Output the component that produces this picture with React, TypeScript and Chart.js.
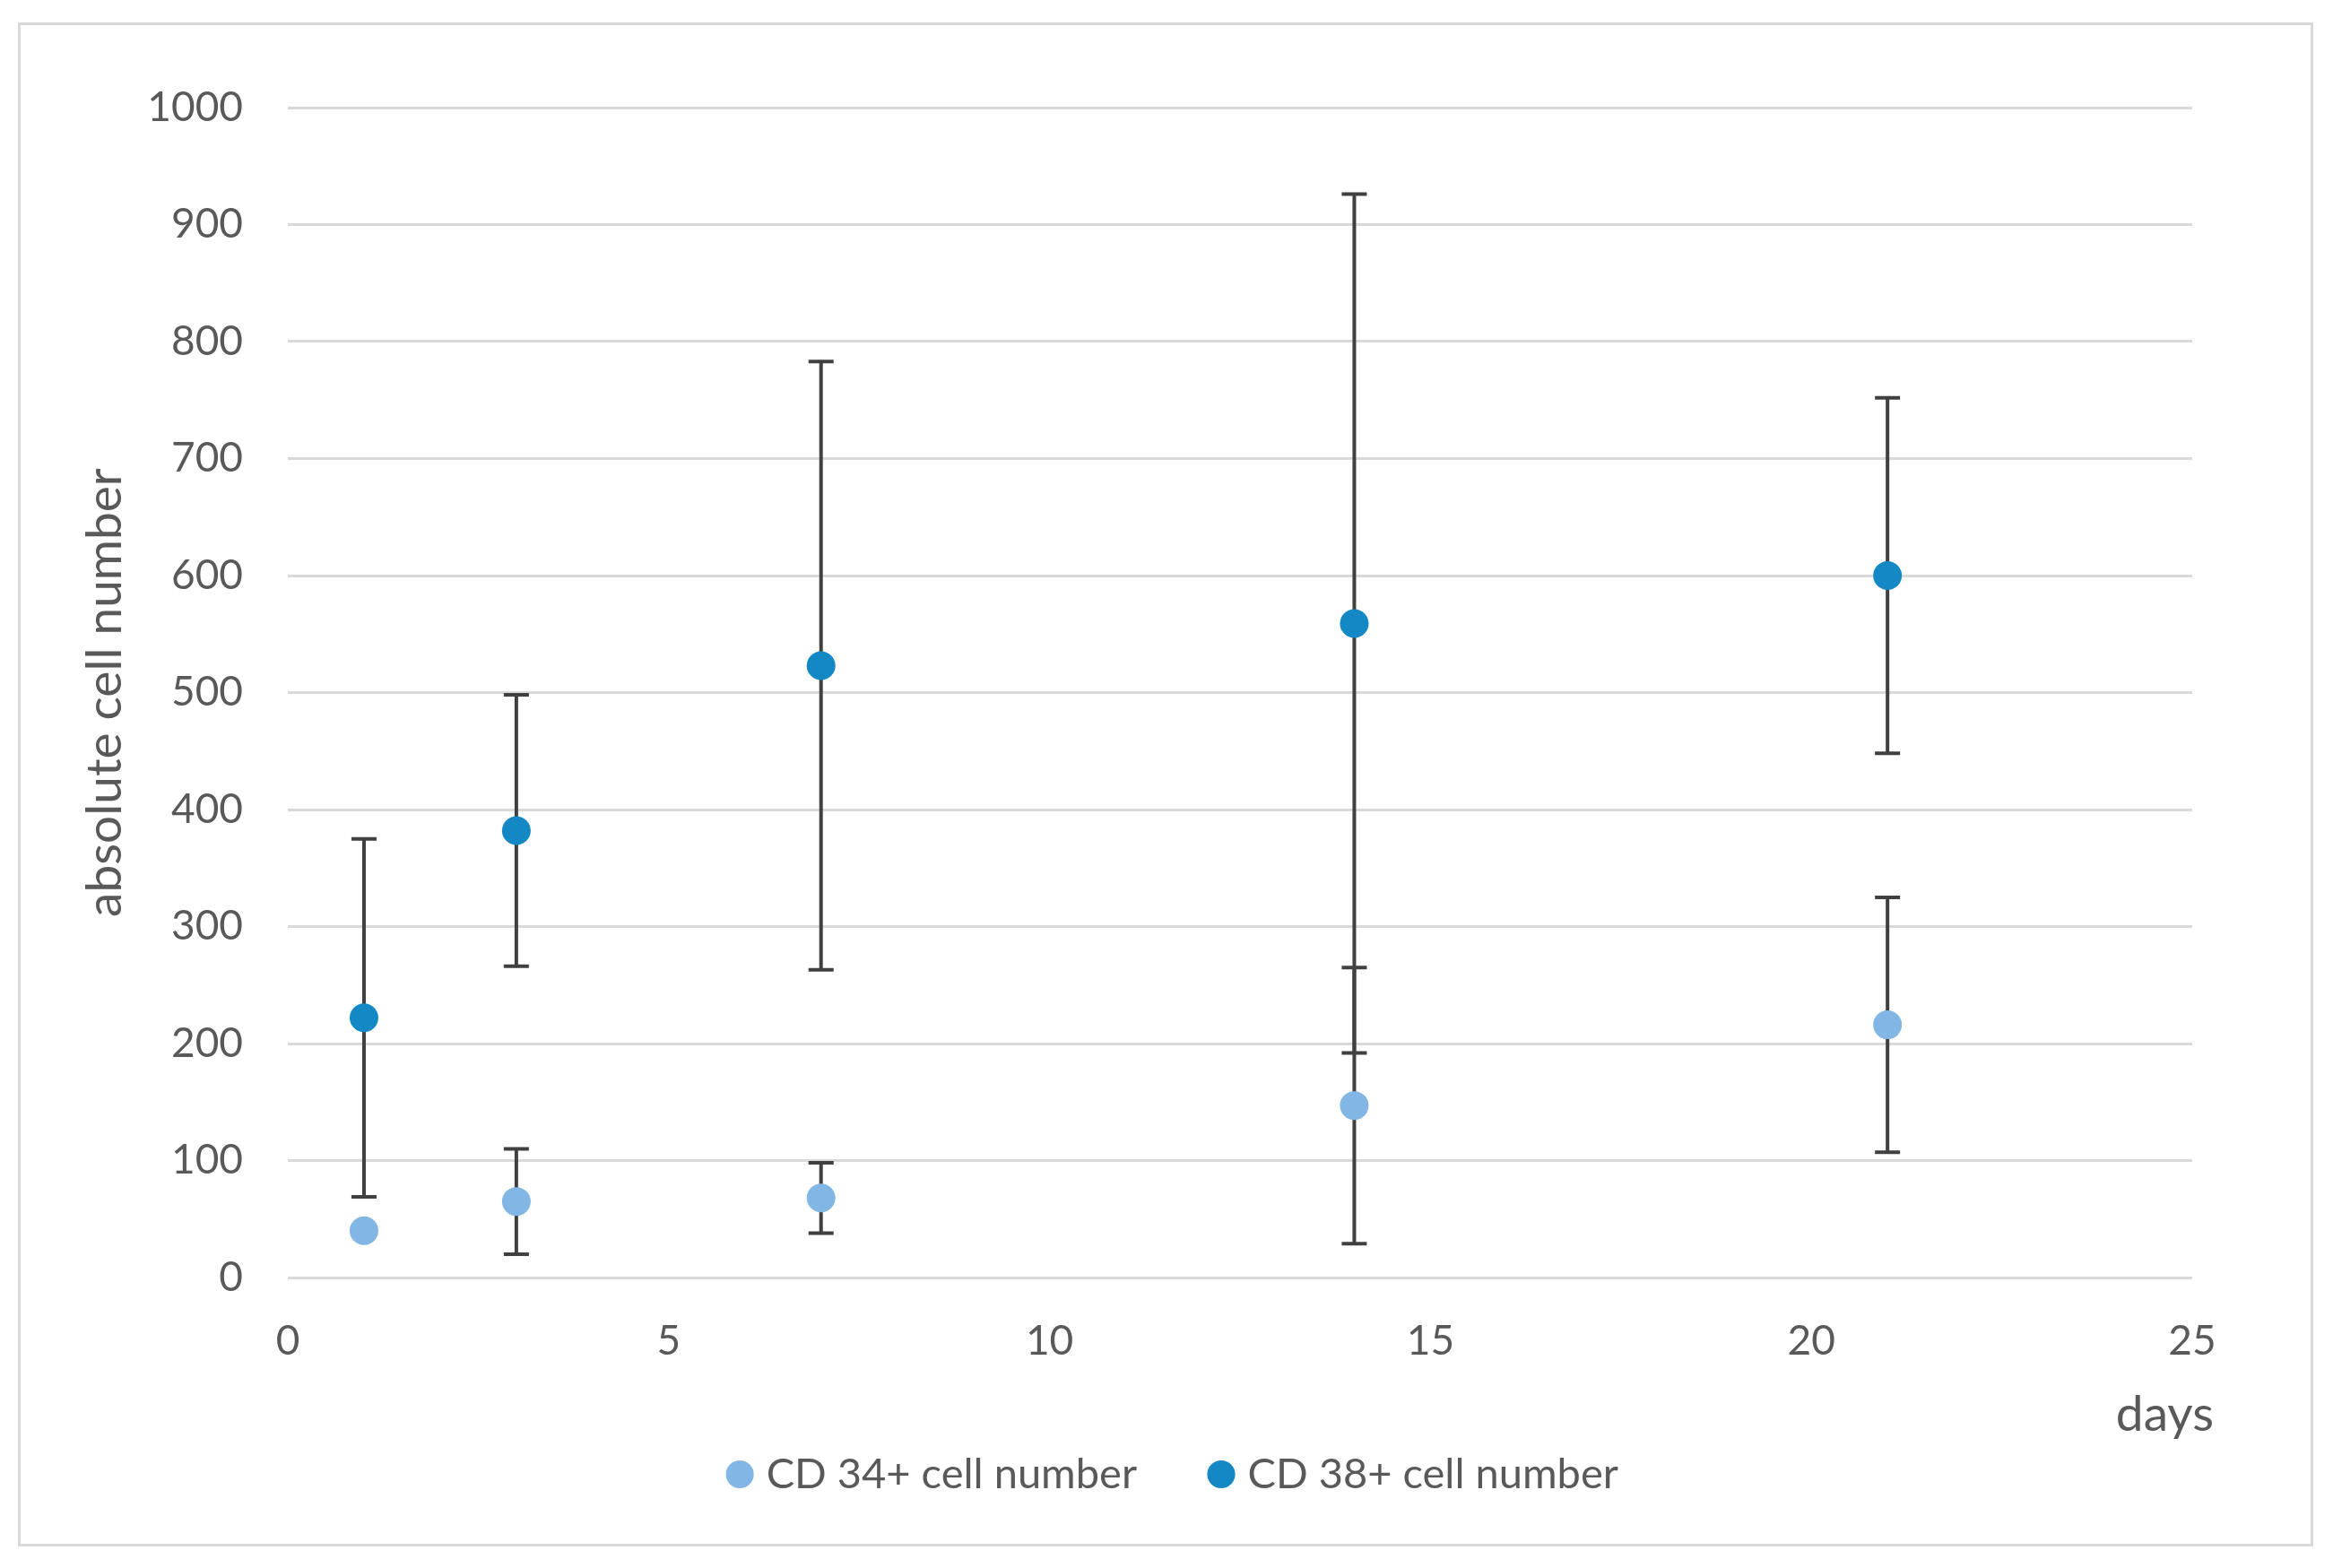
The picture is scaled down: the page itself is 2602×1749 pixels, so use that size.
import { useEffect, useRef } from 'react';
import { Chart, registerables } from 'chart.js';

Chart.register(...registerables);

const days = [1, 3, 7, 14, 21];
const cd34 = [40, 65, 68, 147, 216];
const cd34Err = [0, 45, 30, 118, 109];
const cd38 = [222, 382, 523, 559, 600];
const cd38Err = [153, 116, 260, 367, 152];
const seriesNames = ['CD 34+ cell number', 'CD 38+ cell number'];
const xTickStep = 5;
const yTickStep = 100;
const xRange = [0, 25];
const yRange = [0, 1000];
const xTitle = 'days';
const yTitle = 'absolute cell number';

const FONT = 'Lato, "Open Sans", sans-serif';
const TEXT = '#595959';

const errorBars = {
  id: 'errorBars',
  beforeDatasetsDraw(chart: any) {
    const { ctx, scales } = chart;
    const x = scales.x;
    const y = scales.y;
    ctx.save();
    ctx.strokeStyle = '#404040';
    ctx.lineWidth = 4;
    ctx.lineCap = 'butt';
    chart.data.datasets.forEach((ds: any) => {
      ds.data.forEach((p: any, i: number) => {
        const e = ds.errors[i];
        if (!e) return;
        const px = x.getPixelForValue(p.x);
        const top = y.getPixelForValue(p.y + e);
        const bot = y.getPixelForValue(p.y - e);
        const cap = 14;
        ctx.beginPath();
        ctx.moveTo(px, top);
        ctx.lineTo(px, bot);
        ctx.moveTo(px - cap, top);
        ctx.lineTo(px + cap, top);
        ctx.moveTo(px - cap, bot);
        ctx.lineTo(px + cap, bot);
        ctx.stroke();
      });
    });
    ctx.restore();
  },
};

const xAxisTitle = {
  id: 'xAxisTitle',
  afterDraw(chart: any) {
    const { ctx, chartArea } = chart;
    ctx.save();
    ctx.font = `55px ${FONT}`;
    ctx.fillStyle = TEXT;
    ctx.textAlign = 'right';
    ctx.textBaseline = 'middle';
    ctx.fillText(xTitle, chartArea.right + 24, chartArea.bottom + 153);
    ctx.restore();
  },
};

export default function App() {
  const ref = useRef<HTMLCanvasElement | null>(null);

  useEffect(() => {
    document.body.style.margin = '0';
    const canvas = ref.current;
    if (!canvas) return;
    const chart = new Chart(canvas, {
      type: 'scatter',
      data: {
        datasets: [
          {
            label: seriesNames[0],
            data: days.map((d, i) => ({ x: d, y: cd34[i] })),
            errors: cd34Err,
            backgroundColor: '#82B6E4',
            borderColor: '#82B6E4',
            pointRadius: 16,
            pointHoverRadius: 16,
            pointBorderWidth: 0,
          } as any,
          {
            label: seriesNames[1],
            data: days.map((d, i) => ({ x: d, y: cd38[i] })),
            errors: cd38Err,
            backgroundColor: '#1488C5',
            borderColor: '#1488C5',
            pointRadius: 16,
            pointHoverRadius: 16,
            pointBorderWidth: 0,
          } as any,
        ],
      },
      options: {
        animation: false,
        responsive: false,
        devicePixelRatio: 1,
        layout: { padding: { left: 179, top: 120, right: 157, bottom: 71 } },
        plugins: {
          tooltip: { enabled: false },
          legend: {
            position: 'bottom',
            labels: {
              usePointStyle: true,
              pointStyle: 'circle',
              boxWidth: 12,
              boxHeight: 22,
              padding: 88,
              color: TEXT,
              font: { family: FONT, size: 47 },
            },
          },
        },
        scales: {
          x: {
            type: 'linear',
            min: xRange[0],
            max: xRange[1],
            ticks: { stepSize: xTickStep, padding: 44, color: TEXT, font: { family: FONT, size: 46 } },
            grid: { display: false, drawTicks: false },
            border: { display: false },
            title: { display: false },
            afterFit: (s: any) => {
              s.height = 108;
            },
          },
          y: {
            min: yRange[0],
            max: yRange[1],
            ticks: {
              stepSize: yTickStep,
              padding: 50,
              color: TEXT,
              font: { family: FONT, size: 46 },
              callback: (v: any) => String(v),
            },
            grid: { color: '#D9D9D9', lineWidth: 3, drawTicks: false },
            border: { display: false },
            title: {
              display: true,
              text: yTitle,
              color: TEXT,
              font: { family: FONT, size: 55 },
              padding: { top: -95, bottom: 0 },
            },
            afterFit: (s: any) => {
              s.width = 142;
              s._computeLabelArea = () => undefined;
            },
          },
        },
      } as any,
      plugins: [errorBars, xAxisTitle],
    });
    return () => chart.destroy();
  }, []);

  return (
    <div style={{ position: 'relative', width: 2602, height: 1749, background: '#fff', overflow: 'hidden' }}>
      <canvas ref={ref} width={2602} height={1749} style={{ position: 'absolute', left: 0, top: 0, width: 2602, height: 1749, display: 'block' }} />
      <div
        style={{
          position: 'absolute',
          left: 20,
          top: 25,
          width: 2560,
          height: 1700,
          border: '3px solid #D9D9D9',
          boxSizing: 'border-box',
          pointerEvents: 'none',
        }}
      />
    </div>
  );
}
